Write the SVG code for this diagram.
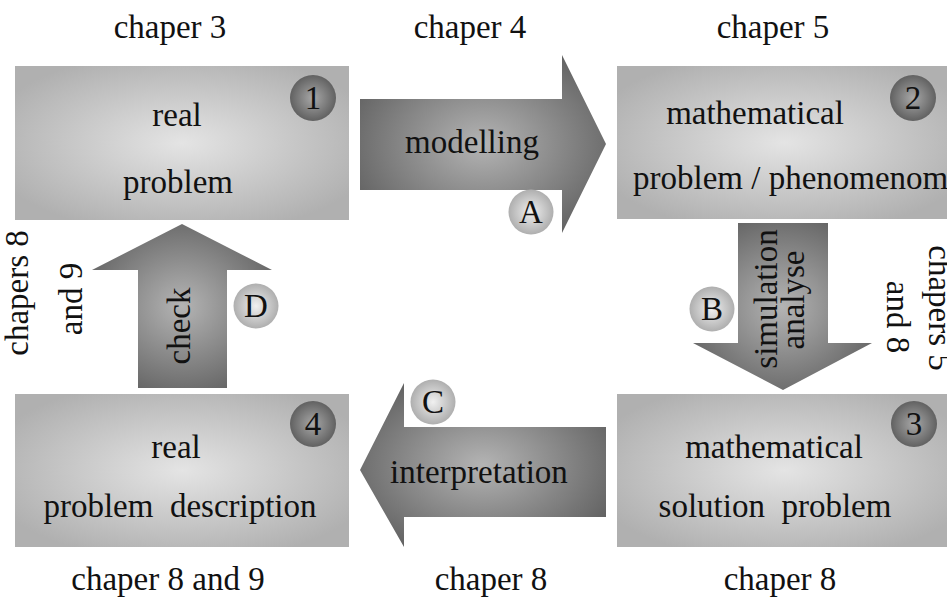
<svg xmlns="http://www.w3.org/2000/svg" width="947" height="602" viewBox="0 0 947 602">
<defs>
  <radialGradient id="gBox" cx="0.5" cy="0.5" r="0.6">
    <stop offset="0" stop-color="#e4e4e4"/>
    <stop offset="1" stop-color="#b0b0b0"/>
  </radialGradient>
  <radialGradient id="gArrow" cx="0.5" cy="0.5" r="0.62">
    <stop offset="0" stop-color="#b4b4b4"/>
    <stop offset="1" stop-color="#5e5e5e"/>
  </radialGradient>
  <radialGradient id="gNum" cx="0.5" cy="0.5" r="0.55">
    <stop offset="0" stop-color="#a8a8a8"/>
    <stop offset="1" stop-color="#5a5a5a"/>
  </radialGradient>
  <radialGradient id="gLet" cx="0.5" cy="0.5" r="0.55">
    <stop offset="0" stop-color="#f0f0f0"/>
    <stop offset="1" stop-color="#a8a8a8"/>
  </radialGradient>
</defs>
<style>
  text { fill: #111; font-size: 33px; }
  .m { text-anchor: middle; }
  .box { fill: url(#gBox); }
  .arrow { fill: url(#gArrow); }
  .num { fill: url(#gNum); }
  .let { fill: url(#gLet); }
</style>

<g id="chapters" font-family="Liberation Serif">
  <text class="m" x="170" y="38">chaper 3</text>
  <text class="m" x="470" y="38">chaper 4</text>
  <text class="m" x="773" y="38">chaper 5</text>
  <text class="m" x="168" y="590">chaper 8 and 9</text>
  <text class="m" x="491" y="590">chaper 8</text>
  <text class="m" x="780" y="590">chaper 8</text>
  <text class="m" transform="translate(28,293) rotate(-90)">chapers 8</text>
  <text class="m" transform="translate(82,299) rotate(-90)">and 9</text>
  <text class="m" transform="translate(929,308) rotate(90)">chapers 5</text>
  <text class="m" transform="translate(887,317) rotate(90)">and 8</text>
</g>

<g id="connectors" font-family="Liberation Serif">
  <g id="arrowA">
    <polygon class="arrow" points="360,99 562,99 562,55 606,144 562,233 562,190 360,190"/>
    <text class="m" x="472" y="153">modelling</text>
    <circle class="let" cx="531" cy="212" r="22.5"/>
    <text class="m" x="531" y="223">A</text>
  </g>
  <g id="arrowB">
    <polygon class="arrow" points="738,223 828,223 828,343 872,343 783,390 693,343 738,343"/>
    <text class="m" transform="translate(777,299) rotate(-90)">simulation</text>
    <text class="m" transform="translate(804,300) rotate(-90)">analyse</text>
    <circle class="let" cx="712" cy="309" r="22.5"/>
    <text class="m" x="712" y="320">B</text>
  </g>
  <g id="arrowC">
    <polygon class="arrow" points="606,427 606,517 404,517 404,547 360,470 404,383 404,427"/>
    <text class="m" x="479" y="483">interpretation</text>
    <circle class="let" cx="433" cy="402" r="22.5"/>
    <text class="m" x="433" y="413">C</text>
  </g>
  <g id="arrowD">
    <polygon class="arrow" points="138,388 138,270 92,270 182,224 272,270 227,270 227,388"/>
    <text class="m" transform="translate(190,326) rotate(-90)">check</text>
    <circle class="let" cx="256" cy="306" r="22.5"/>
    <text class="m" x="256" y="317">D</text>
  </g>
</g>

<g id="node1" font-family="Liberation Serif">
  <rect class="box" x="15" y="66" width="334" height="154"/>
  <text class="m" x="177" y="126">real</text>
  <text class="m" x="178" y="193">problem</text>
  <circle class="num" cx="313" cy="98" r="23"/>
  <text class="m" x="313" y="109">1</text>
</g>
<g id="node2" font-family="Liberation Serif">
  <rect class="box" x="617" y="66" width="334" height="153"/>
  <text class="m" x="755" y="124">mathematical</text>
  <text x="633" y="189">problem / phenomenom</text>
  <circle class="num" cx="913" cy="98" r="23"/>
  <text class="m" x="913" y="109">2</text>
</g>
<g id="node3" font-family="Liberation Serif">
  <rect class="box" x="617" y="394" width="334" height="153"/>
  <text class="m" x="774" y="458">mathematical</text>
  <text class="m" x="775" y="517" xml:space="preserve">solution  problem</text>
  <circle class="num" cx="914" cy="424" r="23"/>
  <text class="m" x="914" y="435">3</text>
</g>
<g id="node4" font-family="Liberation Serif">
  <rect class="box" x="15" y="394" width="334" height="153"/>
  <text class="m" x="176" y="458">real</text>
  <text class="m" x="180" y="517" xml:space="preserve">problem  description</text>
  <circle class="num" cx="313" cy="424" r="23"/>
  <text class="m" x="313" y="435">4</text>
</g>
</svg>
